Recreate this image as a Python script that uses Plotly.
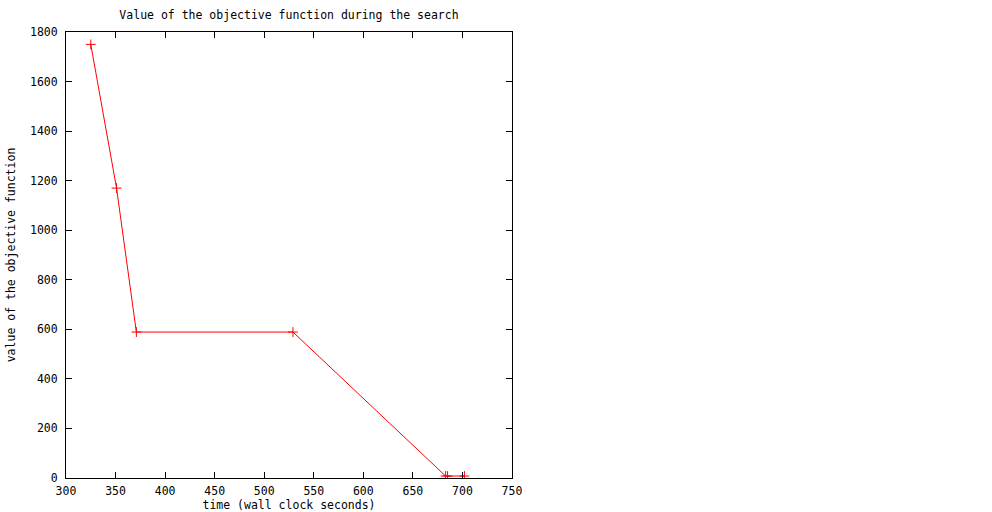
import plotly.graph_objects as go

time_s = [325, 351, 371, 529, 683, 685, 702]
objective = [1750, 1170, 589, 589, 8, 8, 8]

x_ticks = [300, 350, 400, 450, 500, 550, 600, 650, 700, 750]
y_ticks = [0, 200, 400, 600, 800, 1000, 1200, 1400, 1600, 1800]

font = dict(family="DejaVu Sans Mono, monospace", size=11.5, color="black")

fig = go.Figure()
fig.add_trace(go.Scatter(
    x=time_s, y=objective, mode="lines+markers",
    line=dict(color="red", width=1),
    marker=dict(symbol="cross-thin", size=7, line=dict(color="red", width=1), color="red"),
    showlegend=False,
))

axis_common = dict(
    showline=True, linecolor="black", linewidth=1, mirror="ticks",
    ticks="inside", ticklen=6, tickcolor="black", tickwidth=1,
    showgrid=False, zeroline=False, tickfont=font, automargin=False,
)

fig.update_layout(
    width=992, height=512,
    margin=dict(l=66, r=480, t=32, b=34),
    paper_bgcolor="white", plot_bgcolor="white",
    font=font,
    title=dict(text="Value of the objective function during the search",
               x=(66 + 512) / 2 / 992, xanchor="center", y=1 - 15 / 512, yanchor="middle",
               font=font, automargin=False),
    xaxis=dict(range=[300, 750], tickvals=x_ticks, ticktext=[str(v) for v in x_ticks],
               ticklabelstandoff=2,
               title=dict(text="time (wall clock seconds)", font=font, standoff=6), **axis_common),
    yaxis=dict(range=[0, 1800], tickvals=y_ticks, ticktext=[str(v) for v in y_ticks],
               ticklabelstandoff=5,
               title=dict(text="value of the objective function", font=font, standoff=11), **axis_common),
)

fig.write_html("out.html", config={"displayModeBar": False},
               post_script="document.body.style.margin='0';document.body.style.overflow='hidden';")
